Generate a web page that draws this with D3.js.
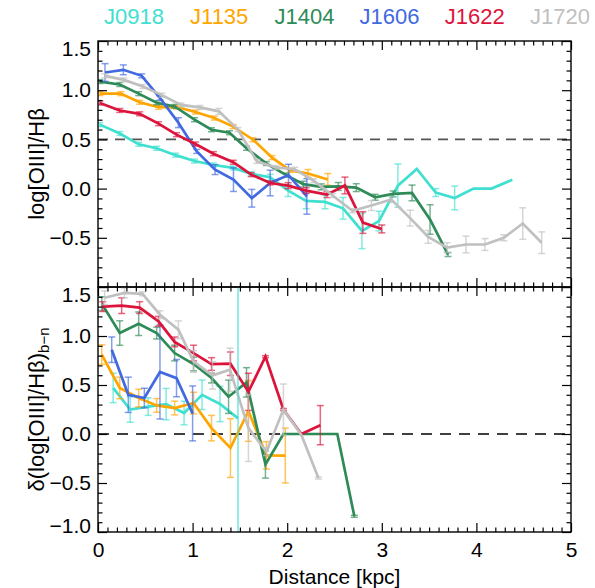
<!DOCTYPE html>
<html>
<head>
<meta charset="utf-8">
<script src="https://cdn.jsdelivr.net/npm/d3@7"></script>
<style>
  body { margin: 0; background: #fff; }
  svg { display: block; }
  text { font-family: "Liberation Sans", Arial, Helvetica, sans-serif; }
</style>
</head>
<body>
<svg id="chart" width="595" height="588"></svg>
<script>
// ---- galaxies and colours ----
const galaxies = ["J0918", "J1135", "J1404", "J1606", "J1622", "J1720"];
const galaxyColors = ["#40E0D0", "#FFA500", "#2E8B57", "#4169E1", "#DC143C", "#C0C0C0"];

// ---- upper panel: log[OIII]/Hβ radial profiles (distance kpc, value, 1σ) ----
const topDistJ0918 = [0.02, 0.23, 0.43, 0.62, 0.82, 1.02, 1.22, 1.43, 1.62, 1.82, 2.01, 2.20, 2.40, 2.59, 2.79, 2.97, 3.17, 3.37, 3.57, 3.77, 3.97, 4.16, 4.38];
const topValJ0918  = [0.65, 0.56, 0.45, 0.41, 0.34, 0.28, 0.24, 0.21, 0.15, 0.115, -0.02, -0.125, -0.135, -0.20, -0.43, -0.33, 0.03, 0.20, -0.04, -0.095, 0.0, 0.0, 0.09];
const topErrJ0918  = [0.02, 0.02, 0.02, 0.02, 0.02, 0.02, 0.02, 0.02, 0.02, 0.03, 0.06, 0.08, 0.07, 0.11, 0.18, 0.10, 0.22, 0, 0.04, 0.12, 0, 0, 0];

const topDistJ1135 = [0.02, 0.24, 0.44, 0.64, 0.83, 1.03, 1.23, 1.43, 1.64, 1.84, 2.03, 2.22, 2.43];
const topValJ1135  = [0.965, 0.965, 0.877, 0.827, 0.83, 0.778, 0.717, 0.63, 0.497, 0.315, 0.185, 0.154, 0.093];
const topErrJ1135  = [0.02, 0.02, 0.02, 0.02, 0.02, 0.02, 0.02, 0.02, 0.02, 0.02, 0.02, 0.04, 0.06];

const topDistJ1404 = [0.02, 0.23, 0.43, 0.62, 0.81, 1.02, 1.20, 1.39, 1.57, 1.78, 1.99, 2.17, 2.36, 2.54, 2.73, 2.93, 3.12, 3.32, 3.51, 3.70];
const topValJ1404  = [1.088, 1.058, 0.965, 0.872, 0.835, 0.70, 0.598, 0.568, 0.41, 0.255, 0.137, 0.045, 0.018, 0.022, 0.01, -0.088, -0.054, -0.044, -0.314, -0.67];
const topErrJ1404  = [0.02, 0.02, 0.02, 0.02, 0.02, 0.02, 0.02, 0.02, 0.02, 0.02, 0.02, 0.03, 0.03, 0.04, 0.04, 0.03, 0.03, 0.08, 0.15, 0.02];

const topDistJ1606 = [0.074, 0.268, 0.462, 0.656, 0.85, 1.044, 1.238, 1.432, 1.626, 1.82, 2.014, 2.208];
const topValJ1606  = [1.18, 1.207, 1.146, 0.92, 0.67, 0.378, 0.193, 0.091, -0.098, 0.057, 0.137, -0.08];
const topErrJ1606  = [0.09, 0.05, 0.02, 0.02, 0.05, 0.02, 0.05, 0.12, 0.09, 0.13, 0.11, 0.18];

const topDistJ1622 = [0.02, 0.23, 0.44, 0.64, 0.83, 1.03, 1.22, 1.43, 1.62, 1.82, 2.01, 2.20, 2.42, 2.61, 2.80, 3.00];
const topValJ1622  = [0.87, 0.794, 0.76, 0.66, 0.548, 0.453, 0.355, 0.268, 0.142, 0.057, 0.03, -0.02, -0.061, 0.032, -0.345, -0.41];
const topErrJ1622  = [0.02, 0.02, 0.02, 0.02, 0.02, 0.02, 0.02, 0.02, 0.02, 0.02, 0.03, 0.03, 0.03, 0.085, 0.11, 0.04];

const topDistJ1720 = [0.074, 0.275, 0.475, 0.676, 0.877, 1.077, 1.278, 1.479, 1.68, 1.88, 2.08, 2.28, 2.48, 2.69, 2.89, 3.10, 3.30, 3.49, 3.69, 3.89, 4.09, 4.29, 4.49, 4.69];
const topValJ1720  = [1.146, 1.105, 1.038, 0.95, 0.85, 0.825, 0.785, 0.60, 0.277, 0.215, 0.197, 0.08, -0.07, -0.225, -0.172, -0.11, -0.30, -0.49, -0.60, -0.568, -0.568, -0.50, -0.355, -0.55];
const topErrJ1720  = [0.02, 0.02, 0.02, 0.02, 0.02, 0.02, 0.03, 0.02, 0.02, 0.02, 0.02, 0.02, 0.02, 0.02, 0.05, 0.03, 0.08, 0.065, 0.05, 0.085, 0.06, 0.03, 0.16, 0.11];

// ---- lower panel: broad minus narrow δ(log[OIII]/Hβ) ----
const botDistJ0918 = [0.16, 0.34, 0.53, 0.72, 0.91, 1.10, 1.29, 1.48];
const botValJ0918  = [0.47, 0.25, 0.28, 0.305, 0.214, 0.40, 0.306, 0.16];
const botErrJ0918  = [0.15, 0.13, 0.09, 0.16, 0.12, 0.15, 0.18, 0];

const botDistJ1135 = [0.04, 0.23, 0.43, 0.62, 0.81, 1.01, 1.20, 1.40, 1.59, 1.78, 1.98];
const botValJ1135  = [0.81, 0.47, 0.367, 0.292, 0.265, 0.316, 0.06, -0.143, 0.235, -0.218, -0.22];
const botErrJ1135  = [0.10, 0.11, 0.09, 0.07, 0.07, 0.11, 0.13, 0.30, 0.31, 0.14, 0.28];

const botDistJ1404 = [0.04, 0.23, 0.43, 0.62, 0.81, 1.01, 1.20, 1.38, 1.57, 1.77, 1.96, 2.15, 2.34, 2.53, 2.71];
const botValJ1404  = [1.33, 1.03, 1.125, 1.03, 0.826, 0.714, 0.571, 0.38, 0.527, -0.31, 0.0, 0.0, 0.0, 0.0, -0.84];
const botErrJ1404  = [0.07, 0.125, 0.12, 0.06, 0.08, 0.07, 0.05, 0.17, 0.15, 0.14, 0, 0, 0, 0, 0.01];

const botDistJ1606 = [0.145, 0.32, 0.49, 0.655, 0.83, 1.0];
const botValJ1606  = [0.86, 0.40, 0.367, 0.633, 0.57, 0.21];
const botErrJ1606  = [0.13, 0.18, 0.10, 0.48, 0.19, 0.28];

const botDistJ1622 = [0.05, 0.25, 0.44, 0.64, 0.81, 1.01, 1.20, 1.40, 1.59, 1.77, 1.96, 2.15, 2.35];
const botValJ1622  = [1.30, 1.31, 1.29, 1.15, 0.94, 0.826, 0.714, 0.717, 0.43, 0.79, 0.25, 0.0, 0.09];
const botErrJ1622  = [0.05, 0.08, 0.06, 0.05, 0.05, 0.08, 0.065, 0.12, 0.19, 0.01, 0.01, 0, 0.2];

const botDistJ1720 = [0.07, 0.28, 0.47, 0.655, 0.85, 1.01, 1.21, 1.395, 1.59, 1.78, 1.96, 2.15, 2.33];
const botValJ1720  = [1.39, 1.44, 1.43, 1.217, 1.064, 0.74, 0.598, 0.656, 0.06, -0.18, 0.25, -0.01, -0.45];
const botErrJ1720  = [0.07, 0.05, 0.02, 0.04, 0.09, 0.11, 0.14, 0.22, 0.34, 0.04, 0.26, 0, 0.01];

// outer radius of the J0918 profile, marked in the lower panel
const extentJ0918 = 1.48;

// ---- tick values ----
const xTickLabels = [0, 1, 2, 3, 4, 5];
const topYTickLabels = [-0.5, 0, 0.5, 1, 1.5];
const botYTickLabels = [-1, -0.5, 0, 0.5, 1, 1.5];
const topReference = 0.5;
const botReference = 0.0;

// ---- assemble series ----
const topSeries = [
  [topDistJ0918, topValJ0918, topErrJ0918],
  [topDistJ1135, topValJ1135, topErrJ1135],
  [topDistJ1404, topValJ1404, topErrJ1404],
  [topDistJ1606, topValJ1606, topErrJ1606],
  [topDistJ1622, topValJ1622, topErrJ1622],
  [topDistJ1720, topValJ1720, topErrJ1720]
].map(([d, v, e], i) => ({ name: galaxies[i], color: galaxyColors[i], pts: d.map((x, k) => ({ x, y: v[k], e: e[k] })) }));

const botSeries = [
  [botDistJ0918, botValJ0918, botErrJ0918],
  [botDistJ1135, botValJ1135, botErrJ1135],
  [botDistJ1404, botValJ1404, botErrJ1404],
  [botDistJ1606, botValJ1606, botErrJ1606],
  [botDistJ1622, botValJ1622, botErrJ1622],
  [botDistJ1720, botValJ1720, botErrJ1720]
].map(([d, v, e], i) => ({ name: galaxies[i], color: galaxyColors[i], pts: d.map((x, k) => ({ x, y: v[k], e: e[k] })) }));

// ---- layout ----
const svg = d3.select("#chart");
const left = 98, right = 571;
const topPanel = { y0: 41, y1: 287 };
const botPanel = { y0: 287, y1: 532 };

const x = d3.scaleLinear().domain([0, 5]).range([left, right]);
const yTop = d3.scaleLinear().domain([-1, 1.5]).range([topPanel.y1, topPanel.y0]);
const yBot = d3.scaleLinear().domain([-1, 1.5]).range([botPanel.y1, botPanel.y0]);

svg.append("rect").attr("width", 595).attr("height", 588).attr("fill", "#fff");

const defs = svg.append("defs");
[["clipTop", topPanel], ["clipBot", botPanel]].forEach(([id, p]) => {
  defs.append("clipPath").attr("id", id)
    .append("rect").attr("x", left).attr("y", p.y0).attr("width", right - left).attr("height", p.y1 - p.y0);
});

const xMinor = d3.range(0, 50.5, 1).map(v => v / 10).filter(v => v % 1 !== 0);
const yMinor = d3.range(-10, 15.5, 1).map(v => v / 10).filter(v => Math.abs((v * 2) % 1) > 1e-9);

function drawPanel(series, y, panel, clipId, yLabels, refValue, refColor, refDash, showX) {
  const g = svg.append("g");
  const plot = g.append("g").attr("clip-path", `url(#${clipId})`);

  // reference level
  plot.append("line")
    .attr("x1", left).attr("x2", right)
    .attr("y1", y(refValue)).attr("y2", y(refValue))
    .attr("stroke", refColor).attr("stroke-width", 1.6)
    .attr("stroke-dasharray", refDash);

  const line = d3.line().x(d => x(d.x)).y(d => y(d.y));

  series.forEach(s => {
    plot.append("path")
      .datum(s.pts)
      .attr("d", line)
      .attr("fill", "none")
      .attr("stroke", s.color)
      .attr("stroke-width", 2.7);

    const eb = plot.append("g")
      .attr("stroke", s.color).attr("stroke-width", 1.5).attr("stroke-opacity", 0.65);
    s.pts.filter(p => p.e > 0).forEach(p => {
      const cx = x(p.x), lo = y(p.y - p.e), hi = y(p.y + p.e);
      eb.append("line").attr("x1", cx).attr("x2", cx).attr("y1", lo).attr("y2", hi);
      eb.append("line").attr("x1", cx - 3.5).attr("x2", cx + 3.5).attr("y1", lo).attr("y2", lo);
      eb.append("line").attr("x1", cx - 3.5).attr("x2", cx + 3.5).attr("y1", hi).attr("y2", hi);
    });
  });

  // inward ticks on all four sides
  const tickStyle = sel => {
    sel.select(".domain").remove();
    sel.selectAll(".tick line").attr("stroke", "#000").attr("stroke-width", 1.2);
  };
  g.append("g").attr("transform", `translate(0,${panel.y1})`)
    .call(d3.axisBottom(x).tickValues(xTickLabels).tickSize(-9).tickFormat(showX ? d3.format("d") : "").tickPadding(10))
    .call(tickStyle)
    .call(a => a.selectAll("text").attr("font-size", 21).attr("fill", "#000").attr("font-family", null));
  g.append("g").attr("transform", `translate(0,${panel.y1})`)
    .call(d3.axisBottom(x).tickValues(xMinor).tickSize(-4.5).tickFormat(""))
    .call(tickStyle);
  g.append("g").attr("transform", `translate(0,${panel.y0})`)
    .call(d3.axisTop(x).tickValues(xTickLabels).tickSize(-9).tickFormat(""))
    .call(tickStyle);
  g.append("g").attr("transform", `translate(0,${panel.y0})`)
    .call(d3.axisTop(x).tickValues(xMinor).tickSize(-4.5).tickFormat(""))
    .call(tickStyle);

  const yMajor = [-1, -0.5, 0, 0.5, 1, 1.5];
  g.append("g").attr("transform", `translate(${left},0)`)
    .call(d3.axisLeft(y).tickValues(yMajor).tickSize(-9).tickFormat(""))
    .call(tickStyle);
  g.append("g").attr("transform", `translate(${left},0)`)
    .call(d3.axisLeft(y).tickValues(yMinor).tickSize(-4.5).tickFormat(""))
    .call(tickStyle);
  g.append("g").attr("transform", `translate(${right},0)`)
    .call(d3.axisRight(y).tickValues(yMajor).tickSize(-9).tickFormat(""))
    .call(tickStyle);
  g.append("g").attr("transform", `translate(${right},0)`)
    .call(d3.axisRight(y).tickValues(yMinor).tickSize(-4.5).tickFormat(""))
    .call(tickStyle);

  // y tick labels; the end labels are nudged inside the panel
  const [dMin, dMax] = y.domain();
  g.append("g").attr("transform", `translate(${left},0)`)
    .call(d3.axisLeft(y).tickValues(yLabels).tickSize(0).tickPadding(7).tickFormat(d3.format(".1f")))
    .call(a => a.select(".domain").remove())
    .call(a => a.selectAll("text")
      .attr("font-size", 21).attr("fill", "#000").attr("font-family", null)
      .attr("y", d => d === dMax ? 8 : d === dMin ? -6 : 0));

  // frame
  g.append("rect")
    .attr("x", left).attr("y", panel.y0)
    .attr("width", right - left).attr("height", panel.y1 - panel.y0)
    .attr("fill", "none").attr("stroke", "#000").attr("stroke-width", 1.4);
  return plot;
}

drawPanel(topSeries, yTop, topPanel, "clipTop", topYTickLabels, topReference, "#555", "10,7", false);
const botPlot = drawPanel(botSeries, yBot, botPanel, "clipBot", botYTickLabels, botReference, "#000", "11,8", true);

// J0918 outer radius marker
botPlot.append("line")
  .attr("x1", x(extentJ0918)).attr("x2", x(extentJ0918))
  .attr("y1", botPanel.y0).attr("y2", botPanel.y1)
  .attr("stroke", galaxyColors[0]).attr("stroke-width", 1.1);

// ---- legend (coloured names) ----
const legendX = d3.scalePoint().domain(galaxies).range([134, 560]);
svg.append("g").selectAll("text")
  .data(galaxies)
  .join("text")
  .attr("x", d => legendX(d))
  .attr("y", 24)
  .attr("text-anchor", "middle")
  .attr("font-size", 22)
  .attr("fill", (d, i) => galaxyColors[i])
  .text(d => d);

// ---- axis titles ----
svg.append("text")
  .attr("x", (left + right) / 2).attr("y", 584)
  .attr("text-anchor", "middle").attr("font-size", 21)
  .text("Distance [kpc]");

svg.append("text")
  .attr("transform", `translate(44,${(topPanel.y0 + topPanel.y1) / 2}) rotate(-90)`)
  .attr("text-anchor", "middle").attr("font-size", 22)
  .text("log[OIII]/Hβ");

const botTitle = svg.append("text")
  .attr("transform", `translate(44,${(botPanel.y0 + botPanel.y1) / 2}) rotate(-90)`)
  .attr("text-anchor", "middle").attr("font-size", 22);
botTitle.append("tspan").text("δ(log[OIII]/Hβ)");
botTitle.append("tspan").attr("font-size", 15).attr("dy", 5).text("b−n");
</script>
</body>
</html>
